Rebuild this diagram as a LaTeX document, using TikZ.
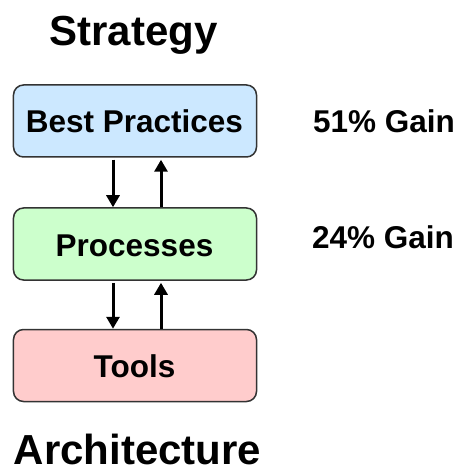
\documentclass[tikz,border=0pt]{standalone}
\usepackage{fontspec}
\setmainfont{Liberation Sans}
\usetikzlibrary{arrows.meta}
\definecolor{bpblue}{HTML}{CCE8FF}
\definecolor{prgreen}{HTML}{CCFFCC}
\definecolor{tlred}{HTML}{FFCCCC}
\definecolor{edge}{HTML}{333333}
\tikzset{
  layerbox/.style={draw=edge, line width=1.5bp, rounded corners=10bp, minimum width=243bp, minimum height=72bp, inner sep=0pt},
  boxtext/.style={inner sep=0pt, anchor=base, font=\fontsize{31.5bp}{36bp}\selectfont\bfseries},
  bigtitle/.style={inner sep=0pt, anchor=base, font=\fontsize{42bp}{48bp}\selectfont\bfseries},
  gainlabel/.style={inner sep=0pt, anchor=base west, font=\fontsize{31.5bp}{36bp}\selectfont\bfseries},
  flow/.style={line width=3bp, -{Triangle[width=13bp,length=12bp]}}
}
\begin{document}
\begin{tikzpicture}[x=1bp,y=-1bp]
\useasboundingbox (0,0) rectangle (460,471);
\node[bigtitle] (strategy) at (133.5,46) {Strategy};
\node[layerbox, fill=bpblue] (bp) at (135,121) {};
\node[boxtext] (bpt) at (134.5,133) {Best Practices};
\node[layerbox, fill=prgreen] (pr) at (135,244) {};
\node[boxtext] (prt) at (134.5,256) {Processes};
\node[layerbox, fill=tlred] (tl) at (135,365.5) {};
\node[boxtext] (tlt) at (134.5,377) {Tools};
\node[bigtitle] (arch) at (137.5,464) {Architecture};
\node[gainlabel] (g1) at (313,133) {51\% Gain};
\node[gainlabel] (g2) at (312,248) {24\% Gain};
\draw[flow] (bp.south -| 113,0) ++(0,2) -- (pr.north -| 113,0);
\draw[flow] (pr.north -| 161,0) -- ([yshift=-2bp]bp.south -| 161,0);
\draw[flow] (pr.south -| 113,0) ++(0,2) -- (tl.north -| 113,0);
\draw[flow] (tl.north -| 161,0) -- ([yshift=-2bp]pr.south -| 161,0);
\end{tikzpicture}
\end{document}
